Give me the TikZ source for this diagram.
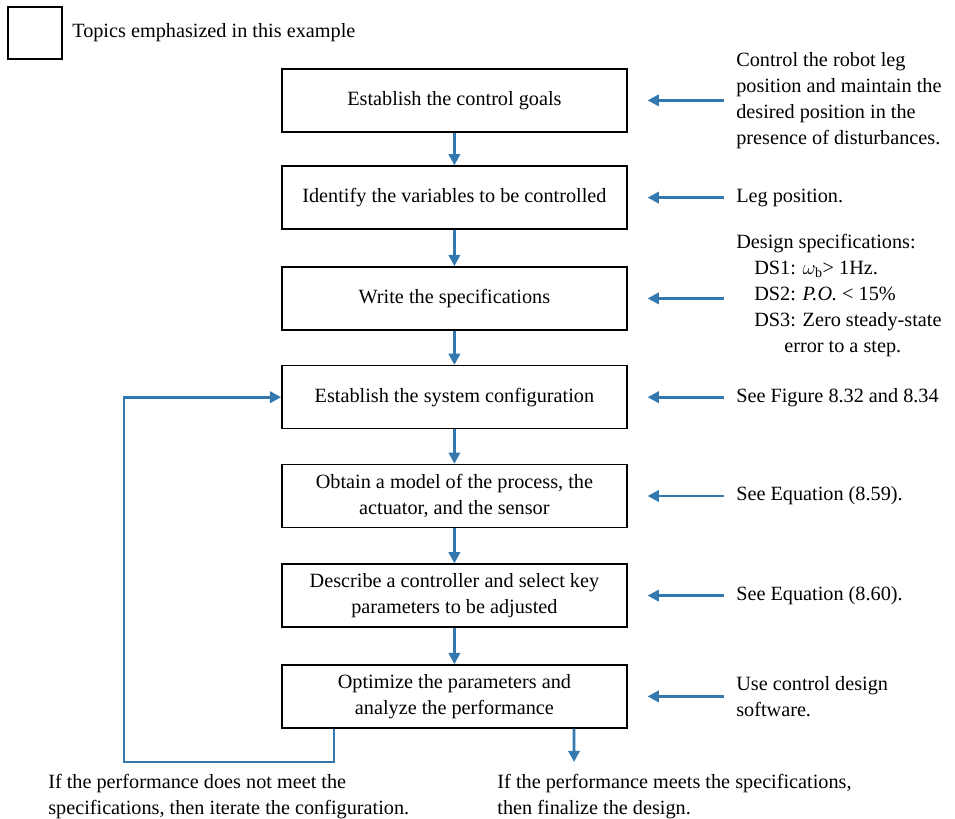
\documentclass[tikz,border=0pt]{standalone}
\usepackage{fontspec}
\setmainfont{Liberation Serif}
\usepackage{tikz}
\usetikzlibrary{arrows.meta, positioning}

\definecolor{flowblue}{RGB}{52,120,176}

\begin{document}
\begin{tikzpicture}[
        box/.style={rectangle, draw=black, line width=1pt, minimum width=8.625cm, minimum height=1.575cm, align=center, text centered},
        note/.style={inner sep=0pt, align=left, anchor=west},
        flow/.style={draw=flowblue, line width=2pt, -{Triangle[length=8pt, width=8pt]}},
        every node/.append style={font=\fontsize{14.4}{18.5}\selectfont}
    ]
        \useasboundingbox (0,0) rectangle (23.875,-20.475);

        % ================= KEY =================
        \node[draw=black, line width=1pt, minimum width=1.35cm, minimum height=1.3cm, inner sep=0pt] (key) at (0.875,-0.825) {};
        \node[note] (keytext) at (1.8,-0.825) {Topics emphasized in this example};

        % ================= DESIGN STEPS =================
        \node[box] (goals) at (11.36,-2.51) {Establish the control goals};
        \node[box] (vars) at (11.36,-4.94) {Identify the variables to be controlled};
        \node[box] (specs) at (11.36,-7.46) {Write the specifications};
        \node[box] (config) at (11.36,-9.93) {Establish the system configuration};
        \node[box] (model) at (11.36,-12.40) {Obtain a model of the process, the\\actuator, and the sensor};
        \node[box] (ctrl) at (11.36,-14.89) {Describe a controller and select key\\parameters to be adjusted};
        \node[box] (optim) at (11.36,-17.41) {Optimize the parameters and\\analyze the performance};

        \draw[flow] (goals) -- (vars);
        \draw[flow] (vars) -- (specs);
        \draw[flow] (specs) -- (config);
        \draw[flow] (config) -- (model);
        \draw[flow] (model) -- (ctrl);
        \draw[flow] (ctrl) -- (optim);

        % ================= NOTES ON THE RIGHT =================
        \node[note] (goalsnote) at (18.4,-2.51) {Control the robot leg\\position and maintain the\\desired position in the\\presence of disturbances.};
        \node[note] (varsnote) at (18.4,-4.94) {Leg position.};
        \node[note] (specsnote) at (18.4,-7.4) {Design specifications:\\
            \hspace*{0.45cm}DS1: $\omega_{\mathrm{b}}$> 1Hz.\\
            \hspace*{0.45cm}DS2: \textit{P.O.} < 15\%\\
            \hspace*{0.45cm}DS3: Zero steady-state\\
            \hspace*{1.2cm}error to a step.};
        \node[note] (confignote) at (18.4,-9.93) {See Figure 8.32 and 8.34};
        \node[note] (modelnote) at (18.4,-12.40) {See Equation (8.59).};
        \node[note] (ctrlnote) at (18.4,-14.89) {See Equation (8.60).};
        \node[note] (optimnote) at (18.4,-17.41) {Use control design\\software.};

        \draw[flow] ([xshift=2.4cm]goals.east) -- ([xshift=0.5cm]goals.east);
        \draw[flow] ([xshift=2.4cm]vars.east) -- ([xshift=0.5cm]vars.east);
        \draw[flow] ([xshift=2.4cm]specs.east) -- ([xshift=0.5cm]specs.east);
        \draw[flow] ([xshift=2.4cm]config.east) -- ([xshift=0.5cm]config.east);
        \draw[flow] ([xshift=2.4cm]model.east) -- ([xshift=0.5cm]model.east);
        \draw[flow] ([xshift=2.4cm]ctrl.east) -- ([xshift=0.5cm]ctrl.east);
        \draw[flow] ([xshift=2.4cm]optim.east) -- ([xshift=0.5cm]optim.east);

        % ================= ITERATE OR FINISH =================
        \coordinate (loopcorner) at (3.1,-19.05);
        \coordinate (done) at (14.35,-19.05);
        \draw[flow] ([xshift=-3.01cm]optim.south) |- (loopcorner) |- (config.west);
        \draw[flow] ([xshift=2.99cm]optim.south) -- (done);

        \node[note, anchor=north west] (failtext) at (1.2,-19.35) {If the performance does not meet the\\specifications, then iterate the configuration.};
        \node[note, anchor=north west] (passtext) at (12.43,-19.35) {If the performance meets the specifications,\\then finalize the design.};
    \end{tikzpicture}
\end{document}
